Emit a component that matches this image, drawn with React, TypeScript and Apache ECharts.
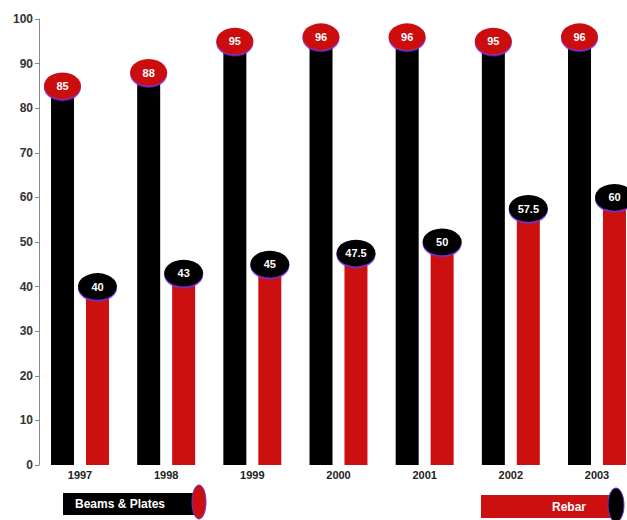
import React, { useEffect, useRef } from "react";
import * as echarts from "echarts";

const years = ["1997", "1998", "1999", "2000", "2001", "2002", "2003"];
const beamsPlates = [85, 88, 95, 96, 96, 95, 96];
const rebar = [40, 43, 45, 47.5, 50, 57.5, 60];
const yTicks = { min: 0, max: 100, interval: 10 };

const RED = "#cc1010";
const BLACK = "#000000";
const PURPLE = "#7030d8";
const NARROW = "'Liberation Sans Narrow', 'Liberation Sans', Arial, sans-serif";

export default function App() {
  const ref = useRef<HTMLDivElement>(null);

  useEffect(() => {
    if (!ref.current) return;
    const chart = echarts.init(ref.current, null, { renderer: "svg" });
    const barW = 23;
    const half = (barW + 12) / 2;
    const ellipseLabel = {
      show: true,
      position: "inside",
      color: "#ffffff",
      fontSize: 11,
      fontWeight: "bold",
      fontFamily: NARROW,
      formatter: "{c}",
    };
    chart.setOption({
      animation: false,
      backgroundColor: "#ffffff",
      grid: { left: 80, right: 30, top: 19, bottom: 55 },
      xAxis: {
        type: "category",
        data: years,
        boundaryGap: false,
        axisLine: { show: false },
        axisTick: { show: false },
        axisLabel: {
          color: "#222",
          fontSize: 11,
          fontWeight: "bold",
          fontFamily: NARROW,
          margin: 4,
        },
      },
      yAxis: {
        type: "value",
        min: yTicks.min,
        max: yTicks.max,
        interval: yTicks.interval,
        offset: 41,
        splitLine: { show: false },
        axisLine: { show: true, lineStyle: { color: "#888", width: 1 } },
        axisTick: { show: true, length: 4, lineStyle: { color: "#888" } },
        axisLabel: {
          color: "#333",
          fontSize: 12,
          fontWeight: "bold",
          fontFamily: NARROW,
          margin: 6,
        },
      },
      series: [
        {
          name: "Beams & Plates",
          type: "bar",
          data: beamsPlates,
          barWidth: barW,
          barGap: "52%",
          clip: false,
          itemStyle: { color: BLACK },
          z: 2,
        },
        {
          name: "Rebar",
          type: "bar",
          data: rebar,
          barWidth: barW,
          barGap: "52%",
          clip: false,
          itemStyle: { color: RED },
          z: 2,
        },
        {
          name: "Beams & Plates labels",
          type: "scatter",
          data: beamsPlates,
          symbol: "circle",
          symbolSize: [37, 27],
          symbolOffset: [-half, 0],
          clip: false,
          itemStyle: {
            color: RED,
            opacity: 1,
            shadowColor: PURPLE,
            shadowOffsetY: 1.5,
            shadowBlur: 0,
          },
          label: ellipseLabel,
          z: 5,
        },
        {
          name: "Rebar labels",
          type: "scatter",
          data: rebar,
          symbol: "circle",
          symbolSize: [39, 27],
          symbolOffset: [half, 0],
          clip: false,
          itemStyle: {
            color: BLACK,
            opacity: 1,
            shadowColor: PURPLE,
            shadowOffsetY: 1.5,
            shadowBlur: 0,
          },
          label: ellipseLabel,
          z: 5,
        },
      ],
      graphic: [
        {
          type: "rect",
          shape: { x: 63, y: 493, width: 132, height: 22 },
          style: { fill: BLACK },
        },
        {
          type: "ellipse",
          shape: { cx: 199, cy: 502, rx: 7, ry: 17 },
          style: { fill: RED, stroke: PURPLE, lineWidth: 1 },
        },
        {
          type: "text",
          x: 75,
          y: 504,
          style: {
            text: "Beams & Plates",
            fill: "#ffffff",
            font: `bold 12px ${NARROW}`,
            verticalAlign: "middle",
            align: "left",
          },
        },
        {
          type: "rect",
          shape: { x: 481, y: 495, width: 130, height: 23 },
          style: { fill: RED },
        },
        {
          type: "ellipse",
          shape: { cx: 616, cy: 505, rx: 8, ry: 17 },
          style: { fill: BLACK, stroke: PURPLE, lineWidth: 1 },
        },
        {
          type: "text",
          x: 569,
          y: 507,
          style: {
            text: "Rebar",
            fill: "#ffffff",
            font: `bold 12px ${NARROW}`,
            verticalAlign: "middle",
            align: "center",
          },
        },
      ],
    });
    return () => chart.dispose();
  }, []);

  return (
    <div
      ref={ref}
      style={{ position: "fixed", left: 0, top: 0, width: 627, height: 520 }}
    />
  );
}
